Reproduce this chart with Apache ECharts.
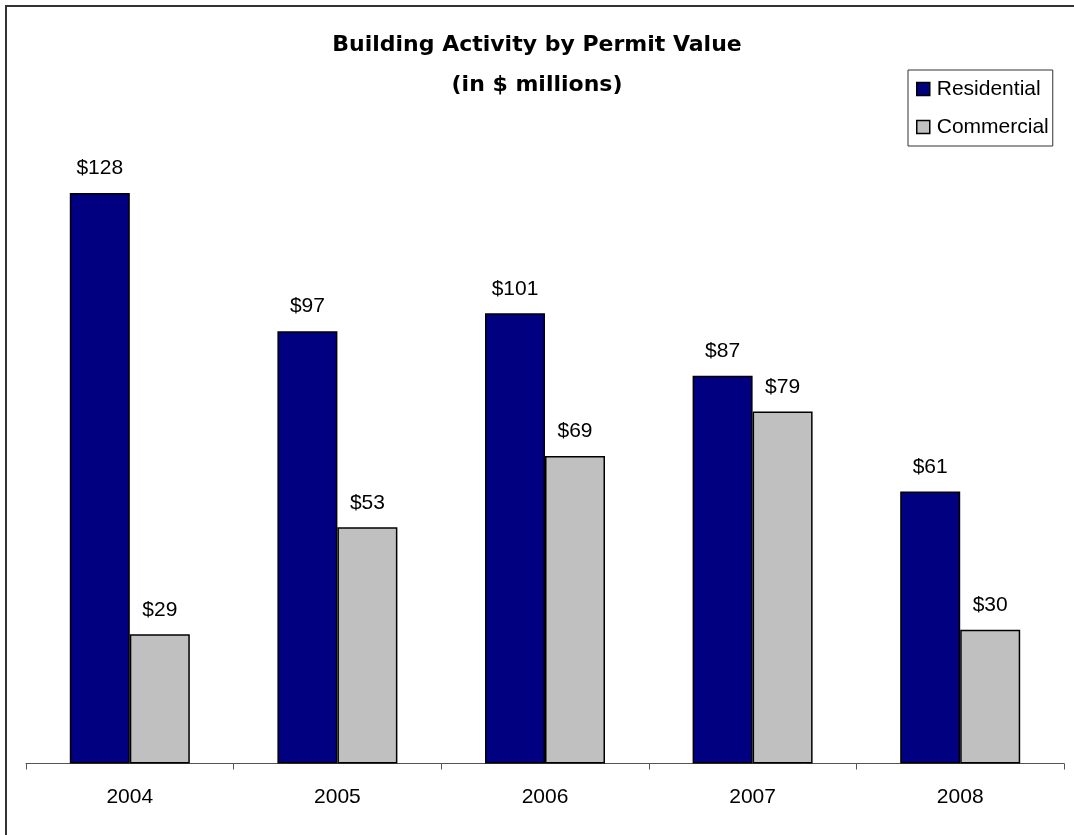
<!DOCTYPE html>
<html>
<head>
<meta charset="utf-8">
<script src="https://cdn.jsdelivr.net/npm/echarts@6/dist/echarts.min.js"></script>
<style>
html,body{margin:0;padding:0;background:#fff;}
#chart{width:1074px;height:835px;}
</style>
</head>
<body>
<div id="chart"></div>
<script>
var categories = ['2004', '2005', '2006', '2007', '2008'];
var residential = [128, 97, 101, 87, 61];
var commercial = [29, 53, 69, 79, 30];
var seriesNames = ['Residential', 'Commercial'];
var titleLines = ['Building Activity by Permit Value', '(in $ millions)'];

var chart = echarts.init(document.getElementById('chart'), null, {renderer: 'canvas'});
var labelStyle = {
  show: true,
  position: 'top',
  distance: 14,
  color: '#000',
  fontFamily: 'Liberation Sans',
  fontSize: 21,
  formatter: function (p) { return '$' + p.value; }
};
chart.setOption({
  animation: false,
  backgroundColor: '#fff',
  graphic: [{
    type: 'rect',
    shape: {x: 6, y: 6, width: 1200, height: 1000},
    style: {fill: 'none', stroke: '#333', lineWidth: 2},
    silent: true
  }],
  title: {
    text: titleLines.join('\n'),
    left: 'center',
    top: 20,
    textStyle: {
      fontFamily: 'DejaVu Sans',
      fontWeight: 'bold',
      fontSize: 22,
      lineHeight: 40,
      color: '#000'
    }
  },
  legend: {
    data: seriesNames,
    orient: 'vertical',
    left: 908,
    top: 70,
    padding: [7, 4, 7, 8],
    itemGap: 14,
    itemWidth: 13,
    itemHeight: 13,
    icon: 'rect',
    borderColor: '#333',
    borderWidth: 1,
    itemStyle: {borderColor: '#000', borderWidth: 1.5},
    textStyle: {
      fontFamily: 'Liberation Sans',
      fontSize: 21,
      lineHeight: 24,
      color: '#000',
      padding: [0, 0, 0, 2]
    }
  },
  grid: {left: 26, right: 10, top: 139.5, bottom: 71.5, containLabel: false},
  xAxis: {
    type: 'category',
    data: categories,
    axisLine: {lineStyle: {color: '#555', width: 1}},
    axisTick: {show: true, length: 6, alignWithLabel: false, lineStyle: {color: '#555'}},
    axisLabel: {
      margin: 23,
      color: '#000',
      fontFamily: 'Liberation Sans',
      fontSize: 21
    }
  },
  yAxis: {
    type: 'value',
    min: 0,
    max: 140,
    show: false
  },
  series: [{
    name: seriesNames[0],
    type: 'bar',
    data: residential,
    barWidth: 60,
    barGap: '0%',
    itemStyle: {color: '#000080', borderColor: '#000', borderWidth: 1.5},
    label: labelStyle
  }, {
    name: seriesNames[1],
    type: 'bar',
    data: commercial,
    barWidth: 60,
    barGap: '0%',
    itemStyle: {color: '#C0C0C0', borderColor: '#000', borderWidth: 1.5},
    label: labelStyle
  }]
});
</script>
</body>
</html>
